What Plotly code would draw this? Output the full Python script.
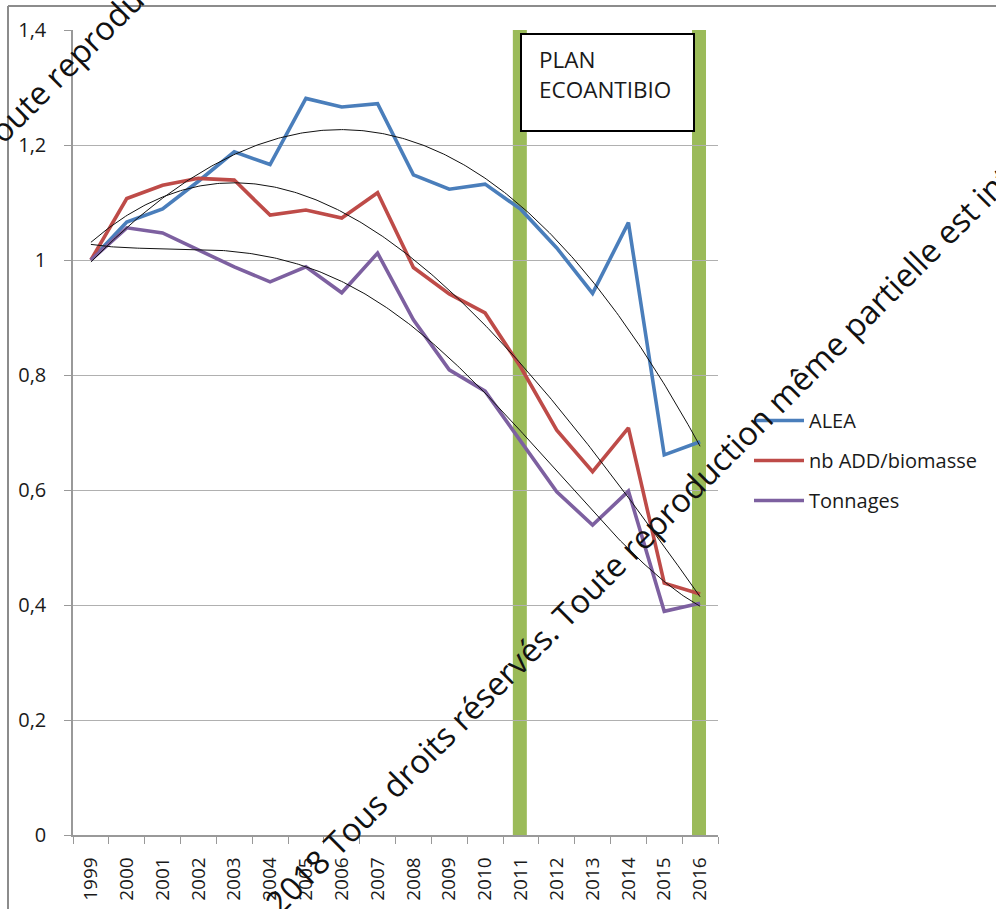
import numpy as np
import plotly.graph_objects as go

# Années (catégories de l'axe X)
years = ["1999", "2000", "2001", "2002", "2003", "2004", "2005", "2006", "2007",
         "2008", "2009", "2010", "2011", "2012", "2013", "2014", "2015", "2016"]

# Indices d'exposition (base 1 en 1999)
alea = [1.000, 1.066, 1.089, 1.137, 1.188, 1.166, 1.281, 1.266, 1.272,
        1.148, 1.123, 1.132, 1.088, 1.021, 0.942, 1.065, 0.661, 0.684]
nb_add_biomasse = [1.000, 1.107, 1.130, 1.142, 1.139, 1.078, 1.087, 1.073, 1.117,
                   0.987, 0.941, 0.908, 0.813, 0.704, 0.632, 0.708, 0.438, 0.419]
tonnages = [1.000, 1.056, 1.047, 1.017, 0.988, 0.962, 0.988, 0.943, 1.012,
            0.896, 0.809, 0.772, 0.684, 0.597, 0.539, 0.598, 0.389, 0.403]

series_names = ["ALEA", "nb ADD/biomasse", "Tonnages"]
series_colors = ["#4A7EBB", "#BE4B48", "#7D60A0"]
trend_orders = [3, 3, 4]  # ordre des courbes de tendance polynomiales

# Années du plan EcoAntibio (barres verticales)
plan_years = ["2011", "2016"]

y_tickvals = [0, 0.2, 0.4, 0.6, 0.8, 1.0, 1.2, 1.4]
y_ticktext = ["0", "0,2", "0,4", "0,6", "0,8", "1", "1,2", "1,4"]

WATERMARK = "© 2018 Tous droits réservés. Toute reproduction même partielle est interdite"

W, H = 996, 909
PL, PR, PT, PB = 73, 718, 30, 835  # zone de tracé en pixels


def px(x):
    return (x - PL) / (PR - PL)


def py(y):
    return (PB - y) / (PB - PT)


FONT = "Open Sans"
TXT = "#1a1a1a"

fig = go.Figure()

for name, vals, col in zip(series_names, [alea, nb_add_biomasse, tonnages], series_colors):
    fig.add_trace(go.Scatter(
        x=years, y=vals, mode="lines", name=name,
        line=dict(color=col, width=3.6),
        legendgroup=name,
    ))

# Courbes de tendance polynomiales, tracées sur un axe X numérique superposé
idx = np.arange(len(years))
fine = np.linspace(0, len(years) - 1, 300)
for vals, order in zip([alea, nb_add_biomasse, tonnages], trend_orders):
    coef = np.polyfit(idx, vals, order)
    fig.add_trace(go.Scatter(
        x=fine, y=np.polyval(coef, fine), mode="lines", xaxis="x2",
        line=dict(color="#111111", width=1),
        showlegend=False, hoverinfo="skip",
    ))

shapes = []
for yr in plan_years:
    pos = years.index(yr)
    shapes.append(dict(type="line", xref="x", yref="y", x0=pos - 0.03, x1=pos - 0.03,
                       y0=0, y1=1.4, line=dict(color="#9BBB59", width=14), layer="below"))

# Cadre du graphique
shapes.append(dict(type="line", xref="paper", yref="paper", x0=px(8), x1=px(996),
                   y0=py(6), y1=py(6), line=dict(color="#8c8c8c", width=2)))
shapes.append(dict(type="line", xref="paper", yref="paper", x0=px(8), x1=px(8),
                   y0=py(6), y1=py(909), line=dict(color="#8c8c8c", width=2)))

# Encadré "PLAN ECOANTIBIO"
shapes.append(dict(type="rect", xref="paper", yref="paper", x0=px(521), x1=px(694),
                   y0=py(131), y1=py(34), fillcolor="white",
                   line=dict(color="black", width=2), layer="above"))

annotations = [
    dict(xref="paper", yref="paper", x=px(537), y=py(60), xanchor="left", yanchor="middle",
         text="PLAN", showarrow=False, font=dict(family=FONT, size=22.5, color=TXT)),
    dict(xref="paper", yref="paper", x=px(537), y=py(89), xanchor="left", yanchor="middle",
         text="ECOANTIBIO", showarrow=False, font=dict(family=FONT, size=22.5, color=TXT)),
]

# Filigrane
for cx, cy in [(657, 521), (81, 49)]:
    annotations.append(dict(xref="paper", yref="paper", x=px(cx), y=py(cy),
                            xanchor="center", yanchor="middle", text=WATERMARK,
                            textangle=-45, showarrow=False,
                            font=dict(family=FONT, size=32.5, color="#111111")))

fig.update_layout(
    width=W, height=H,
    margin=dict(l=PL, r=W - PR, t=PT, b=H - PB, autoexpand=False),
    paper_bgcolor="white", plot_bgcolor="white",
    font=dict(family=FONT, size=19, color=TXT),
    showlegend=True,
    legend=dict(x=px(749), y=py(401), xanchor="left", yanchor="top",
                font=dict(family=FONT, size=20, color=TXT),
                tracegroupgap=11, itemwidth=50, bgcolor="rgba(0,0,0,0)"),
    xaxis=dict(type="category", categoryorder="array", categoryarray=years,
               range=[-0.5, len(years) - 0.5], tickson="boundaries",
               ticks="outside", ticklen=7, tickcolor="#999999", tickwidth=1.3,
               tickangle=-90, tickfont=dict(family=FONT, size=19, color=TXT),
               ticklabelstandoff=13,
               showline=True, linecolor="#999999", linewidth=1.5,
               showgrid=False, zeroline=False, automargin=False),
    xaxis2=dict(overlaying="x", range=[-0.5, len(years) - 0.5], visible=False),
    yaxis=dict(range=[0, 1.4], tickvals=y_tickvals, ticktext=y_ticktext,
               ticks="outside", ticklen=7, tickcolor="#999999", tickwidth=1.3,
               tickfont=dict(family=FONT, size=20, color=TXT),
               ticklabelstandoff=14,
               showline=True, linecolor="#999999", linewidth=1.5,
               showgrid=True, gridcolor="#b0b0b0", gridwidth=1.3,
               zeroline=False, automargin=False),
    shapes=shapes,
    annotations=annotations,
)

fig.write_html("out.html")
